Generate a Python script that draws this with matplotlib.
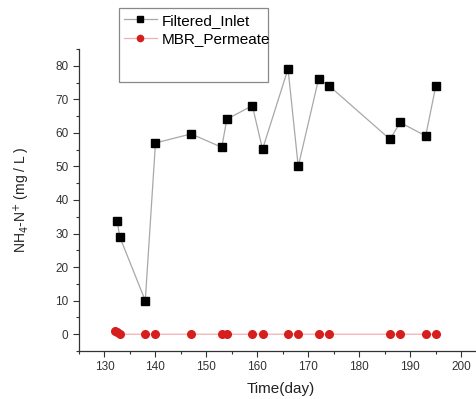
import numpy as np
import matplotlib.pyplot as plt
from matplotlib.patches import Rectangle
from matplotlib.ticker import MultipleLocator

plt.rcParams['font.family'] = ['Liberation Sans', 'DejaVu Sans']

day_inlet = [132.5, 133, 138, 140, 147, 153, 154, 159, 161, 166, 168, 172, 174, 186, 188, 193, 195]
nh4_inlet = [33.6, 29, 10, 57, 59.7, 55.7, 64.1, 68.1, 55.1, 79.1, 50, 76.1, 74.1, 58.1, 63.1, 59.1, 74.1]

day_perm = [132, 132.5, 133, 138, 140, 147, 153, 154, 159, 161, 166, 168, 172, 174, 186, 188, 193, 195]
nh4_perm = [1.1, 0.6, 0, 0, 0, 0, 0, 0, 0, 0, 0, 0, 0, 0, 0, 0, 0, 0]

fig = plt.figure(figsize=(4.77, 3.99), dpi=100)
ax = fig.add_axes([79/477, 48/399, 1 - 79/477 + 0.01, (351 - 49)/399])

ax.plot(day_inlet, nh4_inlet, color='#a8a8a8', lw=0.9, marker='s', ms=5.5,
        mfc='black', mec='black', label='Filtered_Inlet')
ax.plot(day_perm, nh4_perm, color='#f2b0b0', lw=0.9, marker='o', ms=5.5,
        mfc='#d61e1e', mec='#d61e1e', label='MBR_Permeate')

ax.set_xlim(125, 204)
ax.set_ylim(-5, 85)
ax.xaxis.set_major_locator(MultipleLocator(10))
ax.xaxis.set_minor_locator(MultipleLocator(5))
ax.yaxis.set_major_locator(MultipleLocator(10))
ax.yaxis.set_minor_locator(MultipleLocator(5))
ax.set_yticks(range(0, 81, 10))
ax.tick_params(which='major', direction='out', length=4, width=0.8, colors='#333333', labelsize=8.5)
ax.tick_params(which='minor', direction='out', length=2.5, width=0.8, colors='#333333')
for s in ['top', 'right']:
    ax.spines[s].set_visible(False)
for s in ['left', 'bottom']:
    ax.spines[s].set_color('#333333')
    ax.spines[s].set_linewidth(0.9)

ax.set_xlabel('Time(day)', fontsize=11, color='#222222', labelpad=6)
ax.set_ylabel(r'NH$_4$-N$^{+}$ (mg / L )', fontsize=10, color='#222222', labelpad=17)

fig.patches.append(Rectangle((119/477, 1 - 82/399), (268 - 119)/477, (82 - 8)/399,
                             transform=fig.transFigure, fill=False, ec='#888888', lw=0.9))
leg = fig.legend(loc='upper left', bbox_to_anchor=(119/477, 1 - 9/399), frameon=False,
                 fontsize=11, handlelength=2.2, labelspacing=0.3, handletextpad=0.3,
                 borderaxespad=0, borderpad=0.3)
for h in leg.legend_handles:
    h.set_markersize(4.5)

fig.savefig('out.png', dpi=100)
